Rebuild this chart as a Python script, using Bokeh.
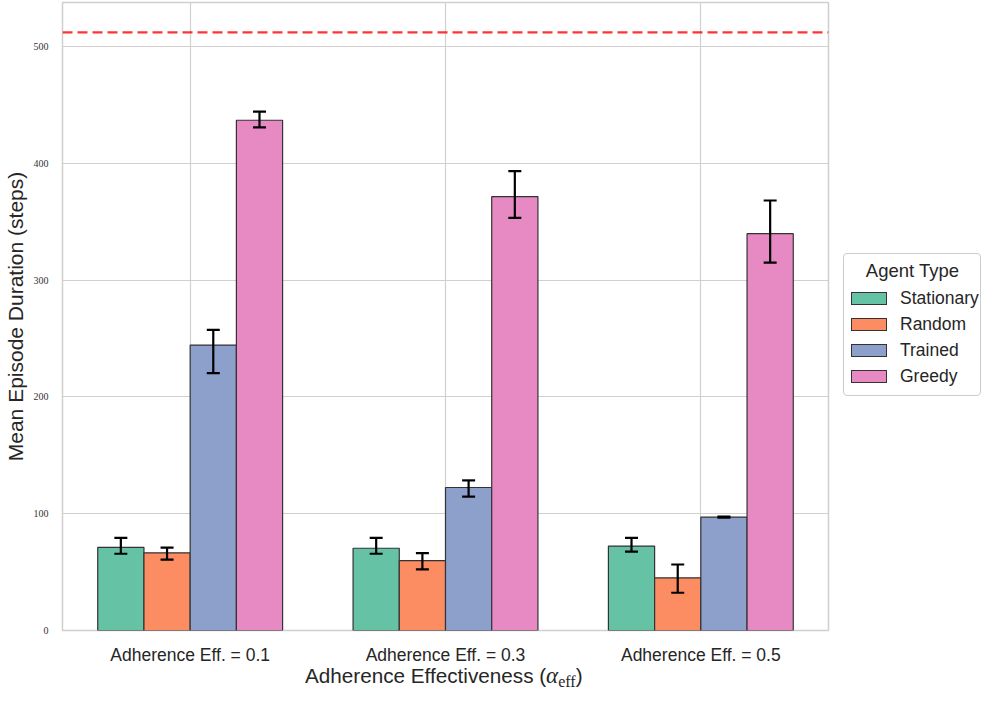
from bokeh.plotting import figure
from bokeh.layouts import column, row
from bokeh.models import (ColumnDataSource, Whisker, TeeHead, Span,
                          FactorRange, Range1d, FixedTicker, Div)
from bokeh.transform import dodge
from bokeh.embed import file_html
from bokeh.resources import INLINE

# ---------------- data ----------------
groups = ["Adherence Eff. = 0.1", "Adherence Eff. = 0.3", "Adherence Eff. = 0.5"]
agents = ["Stationary", "Random", "Trained", "Greedy"]

stationary_mean = [71.2, 70.4, 72.3]
stationary_lo = [65.7, 65.7, 67.6]
stationary_hi = [79.3, 79.3, 79.3]

random_mean = [66.5, 59.8, 45.1]
random_lo = [60.7, 52.3, 32.3]
random_hi = [71.0, 66.2, 56.5]

trained_mean = [244.3, 122.4, 97.1]
trained_lo = [220.4, 114.6, 96.6]
trained_hi = [257.4, 128.5, 97.6]

greedy_mean = [436.8, 371.5, 339.7]
greedy_lo = [430.7, 353.3, 315.0]
greedy_hi = [444.1, 393.2, 368.1]

max_steps = 512
y_ticks = [0, 100, 200, 300, 400, 500]

y_label = "Mean Episode Duration (steps)"
x_label_main = "Adherence Effectiveness ("
x_label_sym = "α"
x_label_sub = "eff"
legend_title = "Agent Type"

colors = ["#66c2a5", "#fc8d62", "#8da0cb", "#e78ac3"]

series = [
    (stationary_mean, stationary_lo, stationary_hi),
    (random_mean, random_lo, random_hi),
    (trained_mean, trained_lo, trained_hi),
    (greedy_mean, greedy_lo, greedy_hi),
]

TXT = "#262626"
W_MAIN = 831
W_LEG = 150
H_MAIN = 667
H_XLAB = 20

# ---------------- main figure ----------------
p = figure(width=W_MAIN, height=H_MAIN,
           x_range=FactorRange(*groups, range_padding=0),
           y_range=Range1d(0, 537.6),
           output_backend="svg", toolbar_location=None,
           min_border_left=60, min_border_right=3,
           min_border_top=2, min_border_bottom=25)

p.background_fill_color = "white"
p.border_fill_color = "white"
p.outline_line_color = "#cfcfcf"
p.outline_line_width = 1.5

p.xgrid.grid_line_color = "#d0d0d0"
p.ygrid.grid_line_color = "#d0d0d0"
p.xgrid.grid_line_width = 1.2
p.ygrid.grid_line_width = 1.2

p.yaxis.ticker = FixedTicker(ticks=y_ticks)
for ax in (p.xaxis[0], p.yaxis[0]):
    ax.axis_line_color = None
    ax.major_tick_line_color = None
    ax.minor_tick_line_color = None

p.yaxis.major_label_text_font = "Liberation Serif"
p.yaxis.major_label_text_font_size = "10px"
p.yaxis.major_label_text_color = "#333333"
p.yaxis.major_label_standoff = 8
p.yaxis.axis_label = y_label
p.yaxis.axis_label_text_font = "Liberation Sans"
p.yaxis.axis_label_text_font_size = "21px"
p.yaxis.axis_label_text_font_style = "normal"
p.yaxis.axis_label_text_color = TXT
p.yaxis.axis_label_standoff = 4

p.xaxis.major_label_text_font = "Liberation Sans"
p.xaxis.major_label_text_font_size = "17.5px"
p.xaxis.major_label_text_color = TXT
p.xaxis.major_label_standoff = 8

w = 0.181
for i, (name, (mean, lo, hi), col) in enumerate(zip(agents, series, colors)):
    src = ColumnDataSource(dict(g=groups, top=mean, lo=lo, hi=hi))
    off = (i - 1.5) * w
    p.vbar(x=dodge("g", off, range=p.x_range), top="top", bottom=0, width=w,
           source=src, fill_color=col, line_color="#333333", line_width=1.2)
    wh = Whisker(source=src, base=dodge("g", off, range=p.x_range),
                 upper="hi", lower="lo", line_color="black", line_width=2.2,
                 level="overlay",
                 upper_head=TeeHead(size=13, line_color="black", line_width=2.2),
                 lower_head=TeeHead(size=13, line_color="black", line_width=2.2))
    p.add_layout(wh)

p.add_layout(Span(location=max_steps, dimension="width", line_color="red",
                  line_alpha=0.8, line_width=2.2, line_dash="10 5"))

# ---------------- x-axis label (real HTML text) ----------------
xlab_html = (
    f'<span style="font-family:\'Liberation Sans\';font-size:20.7px;color:{TXT};'
    f'white-space:nowrap">{x_label_main}'
    f'<span style="font-family:\'Liberation Serif\';font-style:italic;font-size:23px">'
    f'{x_label_sym}</span>'
    f'<span style="font-family:\'Liberation Serif\';font-size:16px;position:relative;top:4px">'
    f'{x_label_sub}</span>)</span>'
)
xl = Div(text=xlab_html, width=W_MAIN, height=H_XLAB,
         styles={"padding-left": "305px", "line-height": "18px", "margin": "0"})

# ---------------- legend (real HTML text) ----------------
rows_html = "".join(
    f'<div style="display:flex;align-items:center;height:26px;font-size:17.5px;'
    f'white-space:nowrap">'
    f'<span style="display:inline-block;box-sizing:border-box;width:36px;height:13px;'
    f'background:{c};border:1.2px solid #333333;margin-right:13px;flex:none"></span>'
    f'{a}</div>'
    for a, c in zip(agents, colors)
)
legend_html = (
    f'<div style="box-sizing:border-box;margin-left:12px;margin-top:253px;width:138px;'
    f'border:1px solid #cccccc;border-radius:4px;padding:3px 6px 6px 7px;'
    f'background:white;font-family:\'Liberation Sans\';color:{TXT}">'
    f'<div style="text-align:center;font-size:18.5px;line-height:28px;'
    f'white-space:nowrap">{legend_title}</div>'
    f'{rows_html}</div>'
)
leg = Div(text=legend_html, width=W_LEG, height=H_MAIN + H_XLAB,
          styles={"margin": "0"})

layout = row(column(p, xl, spacing=0), leg, spacing=0)
open("out.html", "w").write(file_html(layout, INLINE))
